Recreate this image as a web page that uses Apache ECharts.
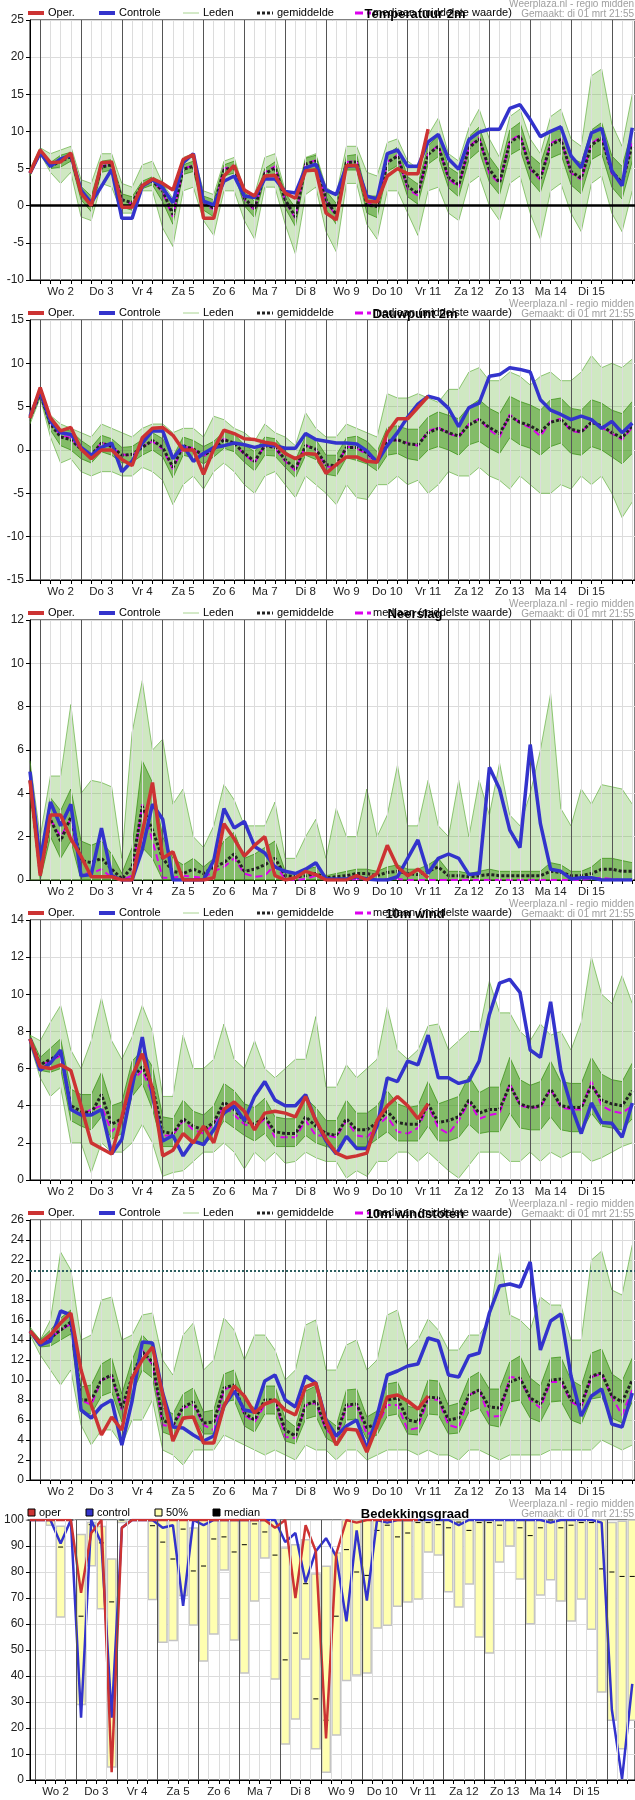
<!DOCTYPE html>
<html>
<head>
<meta charset="utf-8">
<title>Weerplaza pluim - regio midden</title>
<script src="https://cdn.jsdelivr.net/npm/echarts@6/dist/echarts.min.js"></script>
<style>
html, body { margin: 0; padding: 0; background: #fff; }
#chart { width: 635px; height: 1800px; }
</style>
</head>
<body>
<div id="chart"></div>
<script>
// time: hours after wo 2 mrt 00:00, one value every 6 hours
var dayLabels = ['Wo 2', 'Do 3', 'Vr 4', 'Za 5', 'Zo 6', 'Ma 7', 'Di 8', 'Wo 9', 'Do 10', 'Vr 11', 'Za 12', 'Zo 13', 'Ma 14', 'Di 15'];
var startHour = -6;      // di 1 mrt 18:00
var cloudStartHour = -3; // di 1 mrt 21:00
var stepHours = 6;

// Temperatuur 2m
var tempOper = [4.4,7.5,5.8,5.9,7.1,1.7,0.0,5.8,5.9,-0.2, -0.2,2.7,3.6,3.0,2.1,6.2,6.9,-1.7,-1.7,4.0, 5.4,2.1,1.3,4.0,4.1,1.7,1.0,4.7,4.8,-1.0, -1.9,5.4,5.4,0.6,0.5,4.0,5.0,4.3,4.3,10.3];
var tempCtrl = [4.4,7.1,5.3,6.3,6.8,2.1,0.4,2.6,4.9,-1.7, -1.7,2.6,3.5,2.4,0.4,5.8,7.0,0.6,0.1,3.3, 4.0,1.3,1.1,3.6,3.6,1.9,1.7,5.1,5.6,2.1, 1.5,5.3,5.4,1.3,0.9,7.0,7.5,5.3,5.3,8.6, 9.6,6.3,4.9,8.9,9.9,10.3,10.3,13.1,13.6,11.6, 9.3,10.0,10.6,6.7,5.1,9.8,10.4,4.7,2.7,10.5];
var tempMean = [4.4,7.2,5.3,6.0,6.6,1.8,0.3,5.2,5.5,0.8, 0.4,2.8,3.3,2.0,-1.2,4.9,5.3,0.4,-0.3,4.8, 5.2,1.0,-0.4,4.3,5.1,0.8,-1.5,5.6,6.0,0.8, -1.2,5.8,5.9,0.1,-0.1,5.8,6.7,2.6,1.6,6.9, 8.0,3.8,2.8,7.8,9.0,4.9,3.1,8.5,9.4,5.1, 3.7,8.2,8.9,4.6,3.7,8.2,9.1,4.6,3.1,8.2];
var tempMedian = [4.4,7.2,5.4,6.1,6.7,1.7,0.2,5.3,5.6,0.9, 0.2,2.9,3.4,1.8,-1.5,5.0,5.4,0.2,-0.5,5.0, 5.4,0.8,-0.6,4.5,5.3,0.6,-1.7,5.7,6.1,0.6, -1.4,5.9,6.0,0.5,-0.3,5.9,6.8,2.2,1.4,7.0, 8.1,3.6,2.5,7.9,9.2,4.3,3.0,8.7,9.6,4.9, 3.5,8.4,9.1,4.4,3.5,8.4,9.3,4.3,3.0,8.4];
var tempLo = [4.0,7.0,4.5,3.0,4.5,-1.5,-2.0,3.0,2.5,-1.0, -1.0,2.0,2.0,-3.0,-5.5,2.0,2.5,-2.0,-4.0,2.0, 2.0,-2.0,-4.5,2.5,2.5,-2.5,-6.5,1.5,2.5,-3.5, -6.2,3.0,3.0,-2.5,-4.5,2.0,2.0,-1.0,-4.0,2.0, 2.5,-1.0,-2.0,3.0,4.0,0.0,-2.0,3.0,4.0,-1.0, -4.5,2.0,3.0,-1.0,-3.5,3.0,4.0,-1.0,-3.5,2.0];
var tempHi = [5.0,7.8,7.0,7.5,8.0,3.5,3.0,7.0,7.0,3.0, 2.5,5.5,6.0,3.0,1.0,6.5,7.0,2.0,1.5,6.0, 6.5,2.0,1.5,6.5,7.0,2.0,1.0,6.5,7.0,2.5, 1.5,8.0,8.0,4.5,4.0,8.5,9.0,6.0,5.0,9.5, 11.8,7.0,6.0,10.5,13.0,9.0,6.5,12.0,13.0,9.0, 7.0,12.0,13.0,9.0,8.0,17.5,18.4,11.0,8.0,15.0];
var tempQ1 = [4.2,7.0,5.0,5.2,6.0,0.8,-0.8,4.5,4.8,-0.2, -0.6,2.3,2.8,0.5,-2.5,4.2,4.6,-0.6,-1.5,4.0, 4.4,0.0,-1.6,3.6,4.3,-0.3,-2.8,4.6,5.0,-0.5, -2.5,4.8,4.8,-1.0,-1.6,4.6,5.4,1.2,0.2,5.6, 6.6,2.4,1.2,6.2,7.4,3.2,1.5,6.8,7.6,3.4, 1.8,6.4,7.0,2.8,1.6,6.2,7.0,2.5,0.9,6.0];
var tempQ3 = [4.6,7.4,5.8,6.8,7.2,2.6,1.3,6.0,6.2,1.6, 1.2,3.3,3.9,3.0,0.0,5.5,6.0,1.3,0.8,5.5, 6.0,1.8,0.6,5.0,5.9,1.7,-0.3,6.4,6.8,2.0, 0.3,6.7,6.9,1.3,1.3,6.9,7.9,3.9,2.9,8.1, 9.4,5.2,4.3,9.3,10.6,6.6,4.7,10.2,11.2,6.8, 5.6,9.9,10.8,6.4,5.8,10.2,11.2,6.7,5.3,10.3];

// Dauwpunt 2m
var dewOper = [3.7,7.2,3.7,2.2,2.6,0.1,-1.0,0.0,0.0,-1.1, -1.8,1.4,2.5,2.6,1.7,0.0,0.0,-2.8,0.1,2.3, 1.9,1.3,1.2,0.9,0.7,-0.4,-1.0,-0.4,-0.5,-2.7, -1.7,-0.8,-0.8,-1.3,-1.4,2.0,3.6,3.6,4.9,6.2];
var dewCtrl = [3.9,6.8,3.3,2.0,1.8,0.3,-0.6,0.3,0.8,-2.5, -1.3,0.8,2.2,2.2,-1.0,0.5,-1.3,-0.4,0.3,0.5, 0.8,0.6,0.3,0.6,0.5,0.2,0.2,1.9,1.2,1.0, 0.8,0.8,0.7,-0.1,-1.4,0.5,2.0,3.8,5.3,6.2, 5.9,4.8,2.7,4.9,5.4,8.5,8.7,9.5,9.3,9.0, 5.8,4.6,4.1,3.5,3.9,3.5,2.5,3.3,2.0,3.1];
var dewMean = [3.7,6.5,3.0,1.5,1.2,0.1,-0.6,0.8,0.4,-0.6, -0.5,0.3,1.1,0.3,-2.0,0.5,0.1,-0.6,0.1,1.2, 0.8,-0.4,-1.3,0.5,0.3,-1.1,-2.2,0.5,0.1,-1.7, -1.8,0.3,0.3,-0.3,-1.3,1.0,1.2,0.7,0.6,2.0, 2.5,2.0,1.6,2.9,3.5,2.6,1.9,3.9,3.2,2.8, 2.1,3.2,3.5,2.4,2.1,3.2,2.8,2.0,1.4,2.8];
var dewMedian = [3.7,6.5,3.0,1.7,1.4,0.0,-0.8,0.9,0.3,-0.5, -0.7,0.4,1.0,0.1,-2.2,0.4,0.2,-0.8,0.3,1.3, 0.7,-0.5,-1.5,0.6,0.2,-1.3,-2.4,0.6,0.0,-1.9, -2.0,0.4,0.2,-0.5,-1.5,1.2,1.1,0.8,0.5,2.2, 2.6,1.9,1.5,3.0,3.6,2.3,1.5,4.1,3.1,2.6, 1.6,3.3,3.6,2.2,2.0,3.3,2.6,1.9,1.2,2.6];
var dewLo = [3.0,6.0,1.5,-1.5,-1.0,-2.5,-3.0,-2.5,-2.5,-3.0, -3.0,-2.0,-2.5,-3.5,-6.3,-4.0,-3.0,-4.5,-2.5,-1.5, -2.5,-4.0,-5.0,-3.0,-2.5,-4.0,-5.5,-3.0,-4.0,-5.0, -6.3,-4.0,-5.5,-5.7,-4.0,-4.0,-3.0,-4.0,-3.5,-5.0, -4.0,-2.5,-3.0,-3.0,-2.0,-3.0,-3.5,-4.5,-3.0,-4.0, -5.0,-5.0,-4.0,-4.5,-3.0,-4.0,-3.0,-5.0,-7.8,-6.0];
var dewHi = [4.2,7.3,4.0,3.0,2.5,2.0,1.5,3.0,2.5,2.0, 1.5,2.5,3.0,3.0,2.0,2.5,2.5,1.5,3.9,3.5, 2.5,2.0,1.0,3.0,2.0,1.5,0.5,4.3,2.5,1.5, 1.5,3.0,2.5,2.0,1.5,6.5,6.0,6.0,6.5,6.0, 5.5,7.0,7.0,9.0,9.5,8.0,8.0,9.0,8.5,7.5, 8.5,9.0,8.0,8.0,9.0,10.9,9.5,10.0,9.5,10.5];
var dewQ1 = [3.4,6.2,2.3,0.5,0.0,-1.0,-1.5,-0.2,-0.6,-1.5, -1.4,-0.6,0.0,-0.8,-3.2,-0.6,-0.9,-1.6,-0.8,0.2, -0.2,-1.4,-2.4,-0.6,-0.7,-2.0,-3.2,-0.6,-1.1,-2.8, -3.0,-0.9,-1.2,-1.6,-2.4,-0.6,-0.4,-1.0,-1.2,0.0, 0.4,0.0,-0.6,0.6,1.0,0.2,-0.4,1.4,0.6,0.2, -0.6,0.4,0.8,-0.4,-0.6,0.4,0.0,-0.8,-1.6,-0.4];
var dewQ3 = [4.0,6.8,3.6,2.4,2.2,1.1,0.3,1.7,1.3,0.3, 0.4,1.2,2.0,1.3,-0.8,1.5,1.1,0.4,1.0,2.1, 1.8,0.6,-0.2,1.5,1.3,-0.1,-1.2,1.6,1.2,-0.6, -0.6,1.4,1.6,1.0,-0.2,2.6,2.8,2.4,2.4,3.8, 4.4,4.0,3.6,5.0,5.8,4.8,4.2,6.2,5.6,5.2, 4.6,5.8,6.0,4.8,4.6,5.8,5.4,4.6,4.2,5.6];

// Neerslag
var rainOper = [4.6,0.2,3.0,3.0,1.9,1.1,0.15,0.15,0.15,0, 0,2.2,4.5,1.0,1.3,0,0,0,0.1,2.6, 1.9,1.1,1.6,2.0,0.2,0,0.1,0.4,0.25,0, 0,0,0.2,0,0.3,1.6,0.6,0.2,0.5,0.1];
var rainCtrl = [5.0,0.9,3.6,2.5,3.5,0.2,0.25,2.4,0.2,0, 0,1.4,3.5,2.8,0,0,0,0,0.9,3.3, 2.4,2.7,1.55,1.25,0.6,0.4,0.3,0.5,0.8,0.05, 0.05,0.05,0.15,0.05,0,0,0.15,1.0,1.85,0.3, 1.0,1.2,1.0,0.25,0.3,5.2,4.2,2.3,1.5,6.25, 2.6,0.5,0.4,0.05,0.1,0.1,0,0,0,0];
var rainMean = [4.6,0.3,2.8,1.8,2.9,0.9,0.8,1.0,0.5,0.05, 0.6,3.4,2.3,1.0,0.4,0.3,0.5,0.3,0.6,0.8, 1.2,0.4,0.5,0.7,1.0,0.2,0.15,0.2,0.3,0.1, 0.15,0.2,0.3,0.3,0.2,0.35,0.4,0.3,0.25,0.4, 0.6,0.2,0.2,0.15,0.2,0.25,0.2,0.2,0.2,0.2, 0.2,0.4,0.35,0.2,0.2,0.3,0.5,0.5,0.4,0.4];
var rainMedian = [4.6,0.2,2.8,2.0,2.8,0.3,0.3,0.5,0.1,0, 0.2,3.5,1.8,0.1,0.1,0.2,0.15,0.1,0.4,0.6, 1.0,0.3,0.15,0.2,0.7,0.05,0,0.05,0.2,0, 0,0,0.05,0,0,0.05,0.05,0,0,0, 0,0,0,0,0,0,0,0,0,0, 0,0,0,0,0,0.05,0.1,0.05,0,0];
var rainLo = [0,0,0,0,0,0,0,0,0,0, 0,0,0,0,0,0,0,0,0,0, 0,0,0,0,0,0,0,0,0,0, 0,0,0,0,0,0,0,0,0,0, 0,0,0,0,0,0,0,0,0,0, 0,0,0,0,0,0,0,0,0,0];
var rainHi = [5.5,2.0,4.8,4.8,8.1,4.0,4.6,4.5,4.3,1.0, 6.8,9.2,6.0,6.5,3.5,4.2,2.0,1.5,2.5,4.4, 3.7,2.5,2.5,2.5,3.6,1.0,1.0,2.0,2.8,1.0, 3.3,2.0,2.0,4.2,2.0,3.0,5.3,2.5,2.5,4.6, 2.5,2.0,4.6,2.0,4.6,3.0,5.4,3.0,2.5,4.0, 6.0,8.6,3.3,2.5,4.2,3.5,4.4,4.3,4.2,3.5];
var rainQ1 = [4.2,0,2.0,1.0,1.8,0,0,0,0,0, 0,1.5,1.0,0,0,0,0,0,0,0, 0,0,0,0,0,0,0,0,0,0, 0,0,0,0,0,0,0,0,0,0, 0,0,0,0,0,0,0,0,0,0, 0,0,0,0,0,0,0,0,0,0];
var rainQ3 = [5.0,1.0,3.8,3.2,4.2,1.8,1.6,1.8,1.2,0.3, 1.5,5.5,4.5,2.0,1.0,0.7,1.0,0.6,1.0,1.8, 2.2,1.0,1.2,1.5,1.8,0.4,0.3,0.5,0.6,0.2, 0.3,0.4,0.5,0.5,0.4,0.6,0.7,0.5,0.5,0.7, 1.0,0.4,0.4,0.3,0.4,0.5,0.4,0.4,0.4,0.4, 0.4,0.8,0.7,0.4,0.4,0.6,1.0,1.0,0.9,0.8];

// 10m wind
var windOper = [7.6,6.1,6.0,6.2,5.9,4.0,2.0,1.7,1.4,3.4, 5.6,6.8,4.9,1.3,1.6,2.5,2.0,2.9,2.0,3.8, 4.2,3.7,2.7,3.6,3.7,3.6,3.4,4.5,3.2,2.2, 1.45,1.2,1.3,1.45,3.2,4.0,4.5,4.0,3.3,4.1];
var windCtrl = [7.6,5.9,6.3,7.0,3.8,3.5,3.5,3.8,1.4,2.2, 5.0,7.7,4.5,2.1,2.4,1.3,2.1,1.9,2.7,3.6, 4.0,3.2,4.5,5.3,4.3,4.0,4.0,4.6,3.2,2.1, 1.4,2.35,1.7,1.7,2.9,5.5,5.3,6.4,6.2,7.8, 5.5,5.5,5.2,5.35,6.4,8.9,10.6,10.8,10.1,7.0, 6.6,9.6,5.9,4.0,2.5,4.15,3.1,3.05,2.3,4.15];
var windMean = [7.6,6.2,6.5,6.8,4.0,3.7,3.6,4.6,3.0,3.3, 5.5,6.1,5.0,2.6,2.5,3.3,2.9,2.7,3.1,4.2, 3.8,3.2,3.0,3.4,2.6,2.5,2.5,3.4,2.9,2.5, 2.4,3.3,2.7,2.7,3.1,3.7,3.1,3.0,3.0,4.1, 3.1,3.2,3.4,4.3,3.6,3.8,3.8,5.1,4.1,3.9, 4.0,4.9,4.0,3.9,3.9,5.1,4.3,4.1,4.0,4.8];
var windMedian = [7.6,6.2,6.4,6.7,3.8,3.5,3.8,4.0,2.6,3.2, 5.3,5.9,4.6,2.4,2.4,3.2,2.7,2.5,3.0,4.0, 3.5,3.0,2.8,3.3,2.3,2.3,2.3,3.2,2.4,2.4, 2.3,3.2,2.4,2.3,2.9,3.4,2.6,2.5,2.8,4.0, 2.8,2.5,3.2,4.2,3.3,3.5,3.6,5.2,4.0,3.9, 3.9,4.9,3.9,3.8,3.8,5.3,4.0,3.7,3.6,4.0];
var windLo = [7.3,5.5,4.5,5.0,2.0,2.0,0.4,2.0,1.5,1.5, 2.0,3.0,2.0,0.2,0.4,0.5,1.0,1.5,1.5,2.0, 1.5,0.6,1.5,1.0,1.5,0.9,1.0,1.5,1.2,1.0, 1.0,0.1,0.5,0.2,1.0,1.0,1.5,1.5,1.0,1.5, 1.0,0.5,0.1,0.8,1.5,1.5,1.5,1.0,1.0,1.5, 1.0,1.5,1.2,1.5,1.5,1.0,1.2,1.5,1.8,2.0];
var windHi = [7.8,7.5,8.5,9.4,7.0,6.0,7.5,9.8,7.5,6.5, 7.7,9.4,8.0,4.5,4.5,7.8,6.0,6.0,6.5,8.4, 6.5,6.0,7.5,6.0,5.5,6.0,6.5,6.5,8.8,5.0, 5.0,6.2,5.5,6.0,6.5,9.3,7.0,6.5,7.0,8.3, 8.4,7.0,7.5,8.0,8.0,10.7,9.0,9.0,8.0,7.5, 8.4,7.8,8.0,7.0,8.5,12.0,10.0,9.5,11.0,9.5];
var windQ1 = [7.4,5.9,5.8,6.0,3.2,2.9,2.7,3.4,2.2,2.5, 4.5,5.2,3.8,1.8,1.8,2.4,2.1,2.0,2.3,3.2, 2.8,2.4,2.1,2.5,1.8,1.8,1.8,2.4,2.0,1.8, 1.7,2.3,1.8,1.8,2.2,2.6,2.1,2.1,2.1,2.9, 2.1,2.1,2.3,3.0,2.5,2.6,2.6,3.6,2.8,2.7, 2.7,3.4,2.7,2.6,2.6,3.6,2.9,2.8,2.7,3.3];
var windQ3 = [7.8,6.6,7.1,7.6,4.9,4.6,4.6,5.8,4.0,4.2, 6.4,7.0,6.1,3.4,3.3,4.3,3.7,3.5,4.0,5.2, 4.8,4.1,3.9,4.4,3.4,3.3,3.3,4.4,3.9,3.2, 3.2,4.3,3.6,3.6,4.0,4.8,4.1,3.9,4.0,5.3, 4.1,4.3,4.5,5.6,4.7,5.0,5.0,6.6,5.4,5.1, 5.3,6.4,5.3,5.2,5.2,6.6,5.7,5.4,5.3,6.3];

// 10m windstoten
var gustOper = [14.9,13.7,14.5,15.7,16.7,11.0,7.5,4.5,6.3,5.0, 10.2,12.0,13.3,8.5,3.9,6.2,6.3,3.7,3.7,7.4, 9.4,8.4,6.7,7.6,8.0,7.0,6.5,9.3,9.7,5.8, 3.5,5.1,5.0,2.8,5.4,8.3,8.5,7.9,7.1,8.4];
var gustCtrl = [14.9,13.5,13.9,16.9,16.5,7.0,6.2,7.4,8.0,3.5, 7.9,13.8,13.7,8.7,5.3,5.2,4.5,3.9,4.4,7.4, 8.9,7.0,6.8,9.9,10.5,8.0,7.3,10.4,9.7,6.0, 4.4,5.4,6.0,3.1,6.4,10.5,10.9,11.4,11.6,14.2, 13.9,10.5,10.3,12.4,12.7,16.7,19.4,19.6,19.3,21.8, 13.0,15.9,16.6,10.4,6.4,8.4,9.1,5.6,5.3,8.7];
var gustMean = [14.9,13.7,14.2,15.0,15.8,8.0,8.0,10.0,10.5,7.2, 10.3,12.8,11.8,6.0,5.5,7.3,7.8,5.7,5.8,9.2, 9.5,6.7,6.0,8.0,8.0,5.0,4.4,7.5,7.9,5.2, 4.5,7.5,7.6,5.2,5.7,8.0,8.2,6.0,5.8,8.3, 8.2,6.0,6.2,8.5,9.0,7.3,7.2,9.8,10.2,8.2, 7.6,10.0,10.1,8.0,7.5,10.4,10.7,8.4,7.8,10.0];
var gustMedian = [14.9,13.7,14.1,15.0,15.6,8.0,7.5,10.0,10.3,7.0, 10.0,13.0,11.5,5.5,5.3,7.2,7.5,5.5,5.0,9.0, 9.5,6.5,5.8,7.5,8.0,4.3,4.2,7.5,7.7,5.0, 4.2,7.3,7.5,4.5,5.3,7.5,7.5,5.0,5.2,8.1, 8.0,5.5,5.2,8.5,9.0,6.3,6.4,10.3,10.2,8.0, 7.2,9.8,9.8,7.8,7.3,10.3,10.6,8.3,6.5,9.0];
var gustLo = [14.5,12.5,11.0,9.5,11.0,5.5,3.5,5.0,5.0,3.5, 6.0,6.0,8.0,3.0,2.5,1.5,3.0,3.0,3.0,4.5, 4.0,3.5,3.0,2.5,3.0,2.5,2.0,3.5,3.0,3.0, 2.0,3.0,3.0,2.0,2.5,3.0,3.0,3.0,2.5,3.0, 2.5,2.5,2.0,3.0,3.0,2.5,2.0,2.5,2.5,2.5, 2.5,3.0,3.0,3.0,3.0,3.0,4.0,3.5,3.0,3.5];
var gustHi = [15.3,14.0,16.0,22.8,21.0,14.0,14.5,18.0,18.3,14.0, 14.5,16.5,16.7,12.0,10.5,14.5,15.7,11.0,12.0,16.2, 15.0,12.0,14.5,14.5,13.0,10.0,11.0,15.5,16.0,11.0, 11.0,13.5,14.0,11.0,12.0,16.5,17.0,13.0,14.0,16.1, 15.0,13.0,13.0,14.5,14.5,16.0,22.8,16.5,16.0,15.0, 18.3,17.5,17.5,14.0,14.0,22.0,22.9,19.0,18.5,23.5];
var gustQ1 = [14.7,13.3,13.4,14.0,14.6,6.8,6.6,8.4,8.8,5.8, 8.6,11.0,10.2,4.8,4.4,6.0,6.4,4.6,4.6,7.8, 8.0,5.4,4.8,6.6,6.6,3.9,3.6,6.1,6.4,4.2, 3.6,6.0,6.1,4.1,4.5,6.4,6.6,4.6,4.5,6.6, 6.5,4.6,4.7,6.8,7.2,5.5,5.3,7.8,8.0,6.2, 5.8,7.8,7.9,6.0,5.6,8.1,8.3,6.2,5.7,7.8];
var gustQ3 = [15.1,14.0,15.0,16.2,17.0,9.3,9.5,11.6,12.2,8.6, 12.0,14.5,13.4,7.2,6.6,8.6,9.2,6.8,7.0,10.6, 11.0,8.0,7.2,9.4,9.4,6.1,5.3,8.9,9.4,6.2, 5.4,9.0,9.1,6.3,6.9,9.6,9.8,7.4,7.1,10.0, 9.9,7.4,7.7,10.2,10.8,9.1,9.1,11.8,12.4,10.2, 9.4,12.2,12.3,10.0,9.4,12.7,13.1,10.6,9.9,12.2];
var gustThreshold = 20.9;

// Bedekkingsgraad (3 hours later than the other panels)
var cloudOper = [100,100,100,100,100,72,95,100,3,97, 100,100,100,100,100,100,100,100,100,100, 100,100,100,100,97,100,70,98,88,16, 87,100,99,100,100,100,100,100,100];
var cloudCtrl = [100,100,100,91,100,24,100,91,24,97, 100,100,100,97,98,67,100,98,100,100, 100,100,100,100,100,91.5,95,76,88,93, 86,61,96,69,100,99,100,100,100,100, 100,100,98,100,100,100,100,100,100,100, 100,99,100,100,100,100,99,27,0.4,37];
var cloudLow = [100,100,98,62.7,100,29,82.4,65.9,5,99, 100,100,69.4,53,53.7,71,59.6,45.8,56.2,80.8, 53.8,41.2,68.8,85.4,38.8,13.8,23.5,46.5,12,3, 17.3,38.3,40.4,41.2,58.5,59.5,66.8,68.5,69.6,87.7, 86.5,72.4,66.5,75.4,55,48.8,83.8,90,77.3,60.1, 71.2,77,68.8,61.2,69.6,58,33.8,23,12,23];
var cloudHigh = [100,100,100,97.6,100,94.4,99,97.5,85,100, 100,100,99.5,100,100,100,96.9,100,100,100, 100,100,100,100,100,89.2,90.5,92.4,79.2,82.2, 87.3,100,100,100,100,100,100,100,100,100, 100,100,100,100,100,100,100,100,100,100, 100,100,100,100,100,100,100,99,99.5,100];
var cloudMedian = [100,100,100,89.6,100,63,98.2,91.2,68.5,100, 100,100,97.8,91.5,85,96.5,80.4,82.3,92.7,93.5, 87.7,90.5,98.5,95.4,86.5,46.2,56.5,75.5,31.2,23, 63,88.6,80,78.7,96,98,93.5,95,99,99, 98.2,97,99.2,96,99,99,98,100,97,94, 97,100,97,98,99,99,81.2,80,78.3,78.3];

var titles = ['Temperatuur 2m', 'Dauwpunt 2m', 'Neerslag', '10m wind', '10m windstoten', 'Bedekkingsgraad'];

var RED = '#cc3333', BLUE = '#3333cc', MAGENTA = '#dd00ee';
var FONT = '"Liberation Sans", Arial, sans-serif';

function pts(arr, t0) {
    return arr.map(function (v, i) { return [t0 + i * stepHours, v]; });
}

var minorHours = [], labelHours = [];
for (var h = 0; h <= 348; h += 6) minorHours.push(h);
for (var d = 0; d < dayLabels.length; d++) labelHours.push(12 + 24 * d);

var vLines = minorHours.map(function (t) {
    return { xAxis: t, lineStyle: { color: t % 24 === 0 ? '#555' : '#dcdcdc', width: 1, type: 'solid' } };
});

var grids = [], xAxes = [], yAxes = [], series = [], graphics = [];
var yRanges = [[-10, 25, 5], [-15, 15, 5], [0, 12, 2], [0, 14, 2], [0, 26, 2], [0, 100, 10]];

for (var k = 0; k < 6; k++) {
    var t0 = k === 5 ? cloudStartHour : startHour;
    grids.push({ left: 30, top: 20 + 300 * k, width: 606, height: 260, show: true, borderColor: '#000', borderWidth: 1, backgroundColor: 'transparent' });
    xAxes.push({
        type: 'value', gridIndex: k, min: t0, max: t0 + 355.6,
        axisLine: { onZero: false, lineStyle: { color: '#000' } },
        axisTick: { customValues: minorHours, length: 4, lineStyle: { color: '#000' } },
        axisLabel: {
            customValues: labelHours, color: '#222', fontSize: 11.5, margin: 6, fontFamily: FONT,
            formatter: function (v) { return dayLabels[Math.round((v - 12) / 24)] || ''; }
        },
        splitLine: { show: false }
    });
    yAxes.push({
        type: 'value', gridIndex: k, min: yRanges[k][0], max: yRanges[k][1], interval: yRanges[k][2],
        axisLine: { show: true, onZero: false, lineStyle: { color: '#000' } },
        axisTick: { show: true, length: 4, lineStyle: { color: '#000' } },
        axisLabel: { color: '#222', fontSize: 12, margin: 6, fontFamily: FONT },
        splitLine: { lineStyle: { color: '#dcdcdc' } }
    });
}

// filled band between two ensemble envelopes, drawn as one polygon
function band(k, lo, hi, fill) {
    return {
        type: 'custom', xAxisIndex: k, yAxisIndex: k, data: [[startHour, lo[0]]], silent: true, animation: false, z: 1,
        renderItem: function (params, api) {
            var upper = hi.map(function (v, i) { return api.coord([startHour + i * stepHours, v]); });
            var lower = lo.map(function (v, i) { return api.coord([startHour + i * stepHours, v]); }).reverse();
            return { type: 'polygon', shape: { points: upper.concat(lower) }, style: { fill: fill } };
        }
    };
}

function addEnsemblePanel(k, p, refLine) {
    var base = { xAxisIndex: k, yAxisIndex: k, type: 'line', symbol: 'none', silent: true, animation: false };
    function s(extra) { return Object.assign({}, base, extra); }
    // grid lines for the 6 hour steps and the days
    series.push(s({ data: pts(p.mean, startHour), lineStyle: { opacity: 0 }, z: 0,
        markLine: { silent: true, symbol: ['none', 'none'], label: { show: false }, animation: false, lineStyle: { type: 'solid', opacity: 1 }, data: vLines } }));
    // ensemble members: outer spread and dense core
    series.push(band(k, p.lo, p.hi, 'rgba(110,185,70,0.33)'));
    series.push(band(k, p.q1, p.q3, 'rgba(55,145,15,0.5)'));
    [p.lo, p.hi].forEach(function (m) {
        series.push(s({ name: 'Leden', data: pts(m, startHour), lineStyle: { color: 'rgba(80,165,40,0.6)', width: 1 }, z: 1 }));
    });
    [p.q1, p.q3].forEach(function (m) {
        series.push(s({ name: 'Leden', data: pts(m, startHour), lineStyle: { color: 'rgba(50,140,10,0.7)', width: 1 }, z: 1 }));
    });
    if (refLine) {
        series.push(s({ data: [], z: 2, markLine: { silent: true, symbol: ['none', 'none'], label: { show: false }, animation: false, data: [refLine] } }));
    }
    series.push(s({ name: 'mediaan', data: pts(p.median, startHour), lineStyle: { color: MAGENTA, width: 2, type: [7, 4] }, z: 3 }));
    series.push(s({ name: 'gemiddelde', data: pts(p.mean, startHour), lineStyle: { color: '#222', width: 3, type: [3, 2] }, z: 4 }));
    series.push(s({ name: 'Controle', data: pts(p.ctrl, startHour), lineStyle: { color: BLUE, width: 3.5 }, z: 5 }));
    series.push(s({ name: 'Oper.', data: pts(p.oper, startHour), lineStyle: { color: RED, width: 3.5 }, z: 6 }));
}

addEnsemblePanel(0, { oper: tempOper, ctrl: tempCtrl, mean: tempMean, median: tempMedian, lo: tempLo, hi: tempHi, q1: tempQ1, q3: tempQ3 },
    { yAxis: 0, lineStyle: { color: '#000', width: 2.5, type: 'solid' } });
addEnsemblePanel(1, { oper: dewOper, ctrl: dewCtrl, mean: dewMean, median: dewMedian, lo: dewLo, hi: dewHi, q1: dewQ1, q3: dewQ3 });
addEnsemblePanel(2, { oper: rainOper, ctrl: rainCtrl, mean: rainMean, median: rainMedian, lo: rainLo, hi: rainHi, q1: rainQ1, q3: rainQ3 });
addEnsemblePanel(3, { oper: windOper, ctrl: windCtrl, mean: windMean, median: windMedian, lo: windLo, hi: windHi, q1: windQ1, q3: windQ3 });
addEnsemblePanel(4, { oper: gustOper, ctrl: gustCtrl, mean: gustMean, median: gustMedian, lo: gustLo, hi: gustHi, q1: gustQ1, q3: gustQ3 },
    { yAxis: gustThreshold, lineStyle: { color: '#2b5f5f', width: 2, type: [2, 2] } });

// cloud cover: 50% boxes with median tick
var cloudBars = cloudLow.map(function (v, i) {
    return [cloudStartHour + i * stepHours, v, cloudHigh[i], cloudMedian[i]];
});
series.push({ type: 'line', xAxisIndex: 5, yAxisIndex: 5, data: pts(cloudCtrl, cloudStartHour), symbol: 'none', silent: true, animation: false,
    lineStyle: { opacity: 0 }, z: 0,
    markLine: { silent: true, symbol: ['none', 'none'], label: { show: false }, animation: false, lineStyle: { type: 'solid', opacity: 1 }, data: vLines } });
series.push({
    type: 'custom', name: '50%', xAxisIndex: 5, yAxisIndex: 5, data: cloudBars, silent: true, animation: false, z: 1,
    encode: { x: 0, y: [1, 2, 3] },
    renderItem: function (params, api) {
        var t = api.value(0);
        var lo = api.coord([t, api.value(1)]);
        var hi = api.coord([t, api.value(2)]);
        var med = api.coord([t, api.value(3)]);
        var w = api.size([stepHours, 0])[0] * 0.84;
        return {
            type: 'group',
            children: [
                { type: 'rect', shape: { x: lo[0] - w / 2, y: hi[1], width: w, height: Math.max(lo[1] - hi[1], 0) },
                  style: { fill: '#ffffb0', stroke: '#c4c4c4', lineWidth: 1.5 } },
                { type: 'line', shape: { x1: med[0] - 2.5, y1: med[1], x2: med[0] + 2.5, y2: med[1] },
                  style: { stroke: '#000', lineWidth: 1 } }
            ]
        };
    }
});
series.push({ type: 'line', name: 'control', xAxisIndex: 5, yAxisIndex: 5, data: pts(cloudCtrl, cloudStartHour), symbol: 'none', silent: true, animation: false,
    lineStyle: { color: BLUE, width: 2.5 }, z: 2 });
series.push({ type: 'line', name: 'oper', xAxisIndex: 5, yAxisIndex: 5, data: pts(cloudOper, cloudStartHour), symbol: 'none', silent: true, animation: false,
    lineStyle: { color: RED, width: 2.5 }, z: 3 });

// legends, titles and stamp
function text(x, y, str, opts) {
    return Object.assign({ type: 'text', x: x, y: y, silent: true, z: 100,
        style: Object.assign({ text: str, font: '11px ' + FONT, fill: '#000', textAlign: 'left', textVerticalAlign: 'middle', align: 'left', verticalAlign: 'middle' }, opts || {}) });
}
function sample(x1, x2, y, color, width, dash) {
    return { type: 'line', silent: true, z: 100, shape: { x1: x1, y1: y, x2: x2, y2: y }, style: { stroke: color, lineWidth: width, lineDash: dash || null } };
}
var legendItems = [
    { x1: 28, x2: 44, color: RED, width: 4, label: 'Oper.', tx: 48 },
    { x1: 99, x2: 115, color: BLUE, width: 4, label: 'Controle', tx: 119 },
    { x1: 183, x2: 199, color: '#a8d490', width: 1, label: 'Leden', tx: 203 },
    { x1: 257, x2: 273, color: '#222', width: 3, dash: [3, 2], label: 'gemiddelde', tx: 277 },
    { x1: 355, x2: 371, color: MAGENTA, width: 3, dash: [8, 4], label: 'mediaan (middelste waarde)', tx: 373 }
];
for (var k = 0; k < 5; k++) {
    var ly = 13 + 300 * k;
    legendItems.forEach(function (it) {
        graphics.push(sample(it.x1, it.x2, ly, it.color, it.width, it.dash));
        graphics.push(text(it.tx, ly, it.label));
    });
}
var cloudLegend = [
    { x: 28, color: RED, label: 'oper', tx: 39 },
    { x: 86, color: BLUE, label: 'control', tx: 97 },
    { x: 155, color: '#ffffb0', label: '50%', tx: 166 },
    { x: 213, color: '#000', label: 'median', tx: 224 }
];
cloudLegend.forEach(function (it) {
    graphics.push({ type: 'rect', silent: true, z: 100, shape: { x: it.x, y: 1509, width: 7, height: 7 }, style: { fill: it.color, stroke: '#000', lineWidth: 1 } });
    graphics.push(text(it.tx, 1513, it.label));
});
for (var k = 0; k < 6; k++) {
    graphics.push(text(415, 14 + 300 * k, titles[k], { font: 'bold 13px ' + FONT, textAlign: 'center', align: 'center' }));
    graphics.push(text(634, 4 + 300 * k, 'Weerplaza.nl - regio midden', { font: '10px ' + FONT, fill: '#a0a0a0', textAlign: 'right', align: 'right' }));
    graphics.push(text(634, 14 + 300 * k, 'Gemaakt: di 01 mrt 21:55', { font: '10px ' + FONT, fill: '#a0a0a0', textAlign: 'right', align: 'right' }));
}

var chart = echarts.init(document.getElementById('chart'), null, { renderer: 'canvas' });
chart.setOption({
    animation: false,
    textStyle: { fontFamily: FONT },
    grid: grids,
    xAxis: xAxes,
    yAxis: yAxes,
    series: series,
    graphic: graphics
});
</script>
</body>
</html>
